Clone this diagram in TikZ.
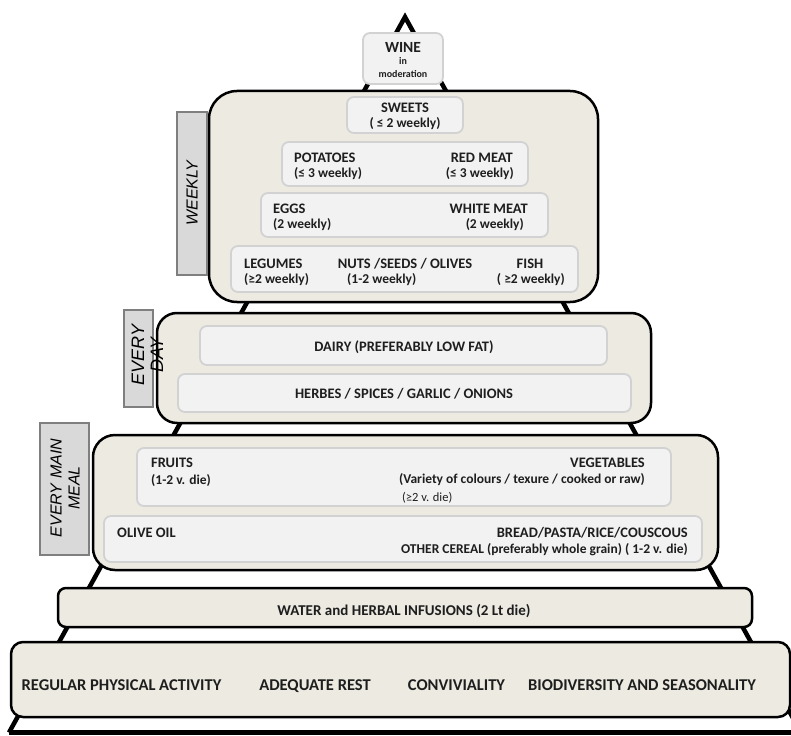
\documentclass[tikz,border=0pt]{standalone}
\usepackage{fontspec}
\setmainfont{Carlito}
\newfontfamily\labfont{Liberation Sans}
\usetikzlibrary{fit}
\definecolor{tierfill}{HTML}{ECEAE1}
\definecolor{innerfill}{HTML}{F2F2F2}
\definecolor{innerline}{HTML}{D2D2D2}
\definecolor{labfill}{HTML}{D9D9D9}
\definecolor{labline}{HTML}{7F7F7F}
\definecolor{txt}{HTML}{1E1E1E}
\tikzset{
 tier/.style={draw=black, line width=2.5pt, fill=tierfill, rounded corners=#1, inner sep=0pt},
 inbox/.style={draw=innerline, line width=1.8pt, fill=innerfill, rounded corners=7pt, inner sep=0pt},
 labbox/.style={draw=labline, line width=1.2pt, fill=labfill, inner sep=0pt},
 side/.style={line width=4.5pt, draw=black},
 hd/.style={inner sep=0pt, text=txt, font=\bfseries\fontsize{14.5}{16}\selectfont},
 sb/.style={inner sep=0pt, text=txt, font=\bfseries\fontsize{13.5}{15}\selectfont},
 bigt/.style={inner sep=0pt, text=txt, font=\bfseries\fontsize{16.5}{18}\selectfont},
 labt/.style={inner sep=0pt, text=black, rotate=90, align=center},
}
\begin{document}
\begin{tikzpicture}[x=1pt,y=-1pt]
\useasboundingbox (0,0) rectangle (791,735);
% pyramid outline
\coordinate (apex) at (405,17);
\coordinate (bl) at (9,732.5);
\coordinate (br) at (801,732.5);
\draw[side, line join=miter] (bl) -- (apex) -- (br);
\draw[side] (bl) -- (br);
% tiers
\node[tier=28pt, fit={(209,91) (598,302)}] (weekly) {};
\node[tier=20pt, fit={(157,313) (651,423)}] (everyday) {};
\node[tier=22pt, fit={(93,435) (718,570)}] (meal) {};
\node[tier=8pt, fit={(58,588) (752,627)}] (water) {};
\node[tier=12pt, fit={(11,642) (790,717)}] (base) {};
% inner boxes
\node[inbox, fit={(363,33) (443,84)}] (winebox) {};
\node[inbox, fit={(347,97) (463,133)}] (sweetsbox) {};
\node[inbox, fit={(282,142) (528,186)}] (potbox) {};
\node[inbox, fit={(261,193) (548,237)}] (eggbox) {};
\node[inbox, fit={(231,246) (578,292)}] (legbox) {};
\node[inbox, fit={(200,326) (607,365)}] (dairybox) {};
\node[inbox, fit={(178,374) (631,412)}] (herbbox) {};
\node[inbox, fit={(137,448) (671,506)}] (fruitbox) {};
\node[inbox, fit={(104,516) (702,562)}] (oilbox) {};
% side labels
\node[labbox, fit={(177,112) (207,275)}] (weeklylab) {};
\node[labbox, fit={(124,310) (153,407)}] (daylab) {};
\node[labbox, fit={(40,423) (89,555)}] (meallab) {};
\node[labt, font=\labfont\itshape\fontsize{16}{18}\selectfont] (weeklyT) at (192,193) {WEEKLY};
\node[labt, font=\labfont\itshape\fontsize{18}{19}\selectfont] (dayT) at (147.5,355) {EVERY\\DAY};
\node[labt, font=\labfont\itshape\fontsize{16}{18}\selectfont] (mealT) at (65,488) {EVERY MAIN\\MEAL};
% wine
\node[inner sep=0pt, text=txt, font=\bfseries\fontsize{15.5}{17}\selectfont, anchor=base] (wineT) at (403,53) {WINE};
\node[inner sep=0pt, text=txt, font=\bfseries\fontsize{10}{11}\selectfont, anchor=base] (inT) at (403,65) {in};
\node[inner sep=0pt, text=txt, font=\bfseries\fontsize{10}{11}\selectfont, anchor=base] (modT) at (403,78) {moderation};
% weekly
\node[hd, anchor=base] (sweetsT) at (405,113) {SWEETS};
\node[sb, anchor=base] (sweetsF) at (405,128) {( ≤ 2 weekly)};
\node[hd, anchor=base west] (potT) at (294,163) {POTATOES};
\node[sb, anchor=base west] (potF) at (294,178) {(≤ 3 weekly)};
\node[hd, anchor=base east] (redT) at (513,163) {RED MEAT};
\node[sb, anchor=base east] (redF) at (514,178) {(≤ 3 weekly)};
\node[hd, anchor=base west] (eggT) at (273,214) {EGGS};
\node[sb, anchor=base west] (eggF) at (273,228) {(2 weekly)};
\node[hd, anchor=base east] (whiteT) at (528,214) {WHITE MEAT};
\node[sb, anchor=base east] (whiteF) at (524,228) {(2 weekly)};
\node[hd, anchor=base west] (legT) at (244,268) {LEGUMES};
\node[sb, anchor=base west] (legF) at (244,283) {(≥2 weekly)};
\node[hd, anchor=base] (nutT) at (405,268) {NUTS /SEEDS / OLIVES};
\node[sb, anchor=base west] (nutF) at (347,283) {(1-2 weekly)};
\node[hd, anchor=base] (fishT) at (530,268) {FISH};
\node[sb, anchor=base east] (fishF) at (565,283) {( ≥2 weekly)};
% every day
\node[hd, anchor=base] (dairyT) at (404,351) {DAIRY (PREFERABLY LOW FAT)};
\node[hd, anchor=base] (herbT) at (404,398) {HERBES / SPICES / GARLIC / ONIONS};
% every main meal
\node[hd, anchor=base west] (fruitT) at (151,467) {FRUITS};
\node[sb, anchor=base west] (fruitF) at (151,484) {(1-2 v. die)};
\node[hd, anchor=base east] (vegT) at (645,467) {VEGETABLES};
\node[sb, anchor=base east] (vegF) at (645,483) {(Variety of colours / texure / cooked or raw)};
\node[inner sep=0pt, text=txt, font=\fontsize{12.5}{13}\selectfont, anchor=base west] (vegG) at (402,501) {(≥2 v. die)};
\node[hd, anchor=base west] (oilT) at (117,537) {OLIVE OIL};
\node[hd, anchor=base east] (breadT) at (688,537) {BREAD/PASTA/RICE/COUSCOUS};
\node[sb, anchor=base east] (cerealT) at (688,553) {OTHER CEREAL (preferably whole grain) ( 1-2 v. die)};
% water
\node[inner sep=0pt, text=txt, font=\bfseries\fontsize{15}{17}\selectfont, anchor=base] (waterT) at (404,615) {WATER and HERBAL INFUSIONS (2 Lt die)};
% base
\node[bigt, anchor=base] (actT) at (121.5,690) {REGULAR PHYSICAL ACTIVITY};
\node[bigt, anchor=base] (restT) at (315,690) {ADEQUATE REST};
\node[bigt, anchor=base] (convT) at (456.5,690) {CONVIVIALITY};
\node[bigt, anchor=base] (bioT) at (642,690) {BIODIVERSITY AND SEASONALITY};
\end{tikzpicture}
\end{document}
